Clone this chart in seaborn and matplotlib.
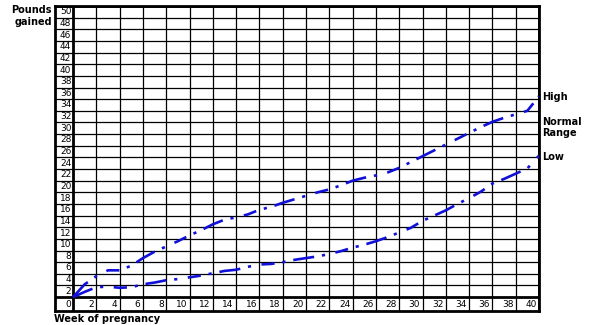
import matplotlib
matplotlib.use("Agg")
import matplotlib.pyplot as plt
import seaborn as sns
import numpy as np
import pandas as pd

weeks = list(range(0, 41))
high = [0, 2.2, 3.6, 4.6, 4.6, 5.4, 6.7, 7.8, 8.7, 9.6, 10.6, 11.5, 12.5, 13.3,
        13.7, 14.2, 15.0, 15.5, 16.2, 16.8, 17.4, 18.0, 18.5, 19.2, 20.0, 20.5,
        20.9, 21.4, 22.2, 23.2, 24.2, 25.2, 26.2, 27.2, 28.2, 29.2, 30.1, 30.8,
        31.4, 32.0, 34.5]
low = [0, 0.9, 1.7, 1.8, 1.6, 1.7, 2.2, 2.5, 2.9, 3.1, 3.4, 3.7, 4.1, 4.5,
       4.7, 5.2, 5.6, 5.7, 6.0, 6.4, 6.7, 7.0, 7.4, 7.9, 8.5, 9.0, 9.6, 10.3,
       11.1, 11.9, 13.1, 14.0, 14.9, 16.0, 17.0, 18.1, 19.5, 20.3, 21.2, 22.1, 24.3]
x_ticks = list(range(0, 41, 2))
y_ticks = list(range(0, 51, 2))
y_title = ["Pounds", "gained"]
x_title = "Week of pregnancy"
side_labels = [("High", 34.4), ("Normal\nRange", 29.2), ("Low", 24.0)]

sns.set_style("white")
plt.rcParams['font.family'] = ['DejaVu Sans']
plt.rcParams['text.color'] = 'black'

fig = plt.figure(figsize=(6, 3.25), dpi=100)
ax = fig.add_axes([55/600, 1 - 310.5/325, (539-55)/600, (310.5-6)/325])
ax.set_xlim(-1.55, 40)
ax.set_ylim(-2.3, 50)

# grid
for v in x_ticks:
    lw = 2.0 if v in (0, 40) else 0.9
    ax.axvline(v, color='black', lw=lw, zorder=1)
for v in y_ticks:
    lw = 2.0 if v in (0, 50) else 0.9
    ax.axhline(v, color='black', lw=lw, zorder=1)

blue = '#1010d8'
df = pd.DataFrame({'week': weeks * 2, 'lbs': high + low,
                   'series': ['High'] * len(weeks) + ['Low'] * len(weeks)})
sns.lineplot(data=df, x='week', y='lbs', units='series', estimator=None,
             color=blue, lw=1.9, ax=ax, zorder=3)
for ln in ax.get_lines()[-2:]:
    ln.set_dashes([8, 3, 1.2, 4, 5, 3, 1.2, 3])

ax.set_xticks([])
ax.set_yticks([])
ax.set_xlabel('')
ax.set_ylabel('')
for s in ax.spines.values():
    s.set_linewidth(2.0)
    s.set_color('black')

for v in x_ticks:
    ax.text(v - 0.2, -1.2, str(v), ha='right', va='center', fontsize=6.5,
            color='black', clip_on=False)
for v in y_ticks[1:]:
    ax.text(-0.15, v - 1, str(v), ha='right', va='center', fontsize=6.5,
            color='black', clip_on=False)

fig.text(52/600, 1 - 10/325, y_title[0], ha='right', va='center',
         fontsize=7, fontweight='bold', color='black')
fig.text(52/600, 1 - 22/325, y_title[1], ha='right', va='center',
         fontsize=7, fontweight='bold', color='black')
fig.text(54/600, 1 - 319/325, x_title, ha='left', va='center',
         fontsize=7, fontweight='bold', color='black')
for txt, yv in side_labels:
    ax.text(40.3, yv, txt, ha='left', va='center', fontsize=7, color='black',
            fontweight='bold', clip_on=False, linespacing=1.1)

fig.savefig('out.png', dpi=100)
